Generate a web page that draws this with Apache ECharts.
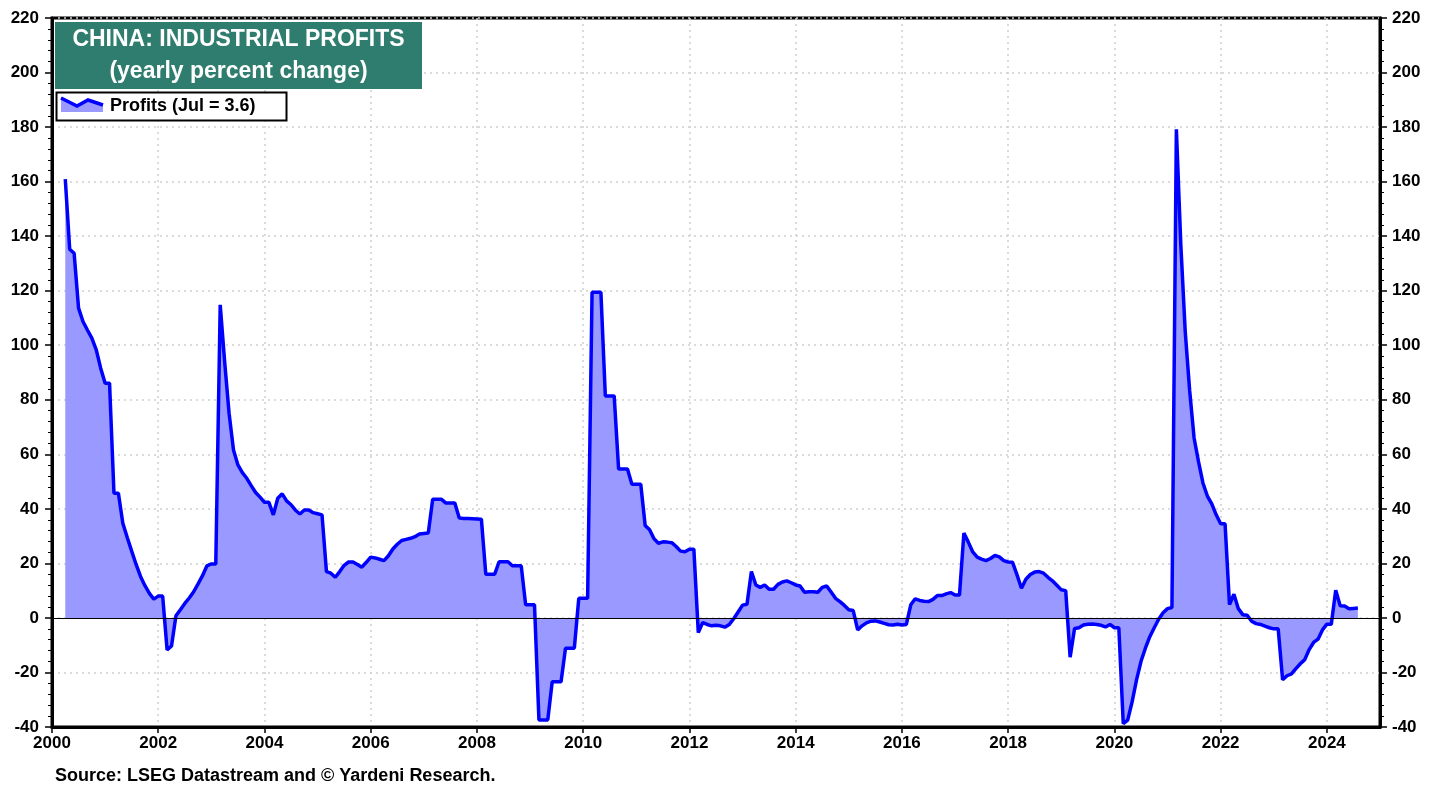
<!DOCTYPE html>
<html>
<head>
<meta charset="utf-8">
<script src="https://cdn.jsdelivr.net/npm/echarts@6/dist/echarts.min.js"></script>
<style>
  html, body { margin: 0; padding: 0; background: #fff; }
  #chart { width: 1441px; height: 789px; }
</style>
</head>
<body>
<div id="chart"></div>
<script>
// ---- Data: China industrial profits, yearly % change (month-end values, Jan..Dec) ----
const p2000 = [null, null, 160.9, 135.2, 133.7, 113.6, 108.7, 105.6, 102.6, 98.3, 91.6, 86.1];
const p2001 = [86.1, 45.7, 45.7, 34.7, 29.5, 24.5, 19.6, 15.2, 11.8, 9.0, 6.9, 8.0];
const p2002 = [8.0, -11.7, -10.3, 0.8, 3.0, 5.3, 7.3, 9.6, 12.5, 15.5, 19.1, 19.8];
const p2003 = [19.8, 114.8, 94.0, 75.1, 61.6, 56.1, 53.3, 51.2, 48.5, 46.0, 44.3, 42.4];
const p2004 = [42.4, 37.8, 43.9, 45.5, 42.9, 41.5, 39.5, 38.1, 39.6, 39.6, 38.6, 38.2];
const p2005 = [37.8, 17.0, 16.4, 14.9, 17.0, 19.3, 20.5, 20.5, 19.6, 18.6, 20.4, 22.3];
const p2006 = [22.0, 21.5, 21.0, 22.8, 25.3, 27.0, 28.4, 28.8, 29.2, 29.8, 30.8, 31.0];
const p2007 = [31.1, 43.5, 43.5, 43.5, 42.1, 42.1, 42.1, 36.6, 36.5, 36.5, 36.4, 36.3];
const p2008 = [36.2, 16.0, 16.0, 16.0, 20.6, 20.6, 20.6, 19.1, 19.1, 19.1, 4.8, 4.8];
const p2009 = [4.8, -37.4, -37.4, -37.4, -23.4, -23.4, -23.4, -11.1, -11.1, -11.1, 7.2, 7.2];
const p2010 = [7.2, 119.4, 119.4, 119.4, 81.4, 81.4, 81.4, 54.6, 54.6, 54.6, 49.0, 49.0];
const p2011 = [49.0, 33.9, 32.3, 29.0, 27.4, 27.9, 27.8, 27.6, 26.2, 24.5, 24.3, 25.2];
const p2012 = [25.2, -5.4, -1.7, -2.4, -2.9, -2.7, -2.9, -3.4, -2.4, -0.3, 2.2, 4.7];
const p2013 = [5.0, 17.0, 12.1, 11.2, 12.1, 10.5, 10.5, 12.3, 13.2, 13.6, 12.9, 12.1];
const p2014 = [11.7, 9.4, 9.6, 9.6, 9.4, 11.2, 11.7, 9.5, 7.2, 6.0, 4.6, 3.0];
const p2015 = [2.7, -4.4, -2.9, -1.8, -1.2, -1.1, -1.5, -2.0, -2.5, -2.6, -2.3, -2.6];
const p2016 = [-2.4, 4.8, 7.0, 6.4, 6.1, 6.0, 6.8, 8.2, 8.2, 8.8, 9.3, 8.4];
const p2017 = [8.4, 31.1, 27.8, 24.2, 22.3, 21.6, 21.0, 21.8, 22.9, 22.4, 21.0, 20.5];
const p2018 = [20.4, 15.8, 10.9, 14.2, 15.9, 16.8, 17.0, 16.4, 14.9, 13.6, 12.0, 10.3];
const p2019 = [10.0, -14.4, -3.9, -3.6, -2.6, -2.3, -2.2, -2.4, -2.7, -3.3, -2.4, -3.6];
const p2020 = [-3.6, -38.8, -37.5, -30.8, -22.7, -16.0, -11.1, -6.9, -3.6, -0.5, 1.9, 3.4];
const p2021 = [3.8, 179.2, 137.0, 105.0, 83.4, 66.0, 57.3, 49.5, 44.7, 41.8, 37.8, 34.5];
const p2022 = [34.5, 4.9, 8.7, 3.4, 1.2, 1.0, -1.2, -2.1, -2.4, -3.0, -3.6, -4.0];
const p2023 = [-4.0, -22.7, -21.2, -20.5, -18.6, -16.8, -15.3, -11.6, -9.0, -7.8, -4.4, -2.3];
const p2024 = [-2.3, 10.2, 4.5, 4.4, 3.4, 3.5, 3.6];

const yearlyValues = {
  2000: p2000, 2001: p2001, 2002: p2002, 2003: p2003, 2004: p2004, 2005: p2005,
  2006: p2006, 2007: p2007, 2008: p2008, 2009: p2009, 2010: p2010, 2011: p2011,
  2012: p2012, 2013: p2013, 2014: p2014, 2015: p2015, 2016: p2016, 2017: p2017,
  2018: p2018, 2019: p2019, 2020: p2020, 2021: p2021, 2022: p2022, 2023: p2023,
  2024: p2024
};

const xTickYears = [2000, 2002, 2004, 2006, 2008, 2010, 2012, 2014, 2016, 2018, 2020, 2022, 2024];
const titleLines = ['CHINA: INDUSTRIAL PROFITS', '(yearly percent change)'];
const legendLabel = 'Profits (Jul = 3.6)';
const sourceText = 'Source: LSEG Datastream and \u00A9 Yardeni Research.';

// Build [decimal-year at month end, value] pairs
const seriesData = [];
Object.keys(yearlyValues).map(Number).sort((a, b) => a - b).forEach(y => {
  yearlyValues[y].forEach((v, m) => {
    if (v !== null && v !== undefined) seriesData.push([y + (m + 1) / 12, v]);
  });
});

const FONT = '"Liberation Sans", Arial, Helvetica, sans-serif';
const chart = echarts.init(document.getElementById('chart'), null, { renderer: 'canvas' });

const gridLineStyle = { color: '#cfcfcf', type: [2, 4], width: 1.5 };

const yAxisCommon = {
  type: 'value', min: -40, max: 220, interval: 20,
  axisLine: { show: true, lineStyle: { color: '#000', width: 3 } },
  axisTick: { show: true, length: 7, lineStyle: { color: '#000', width: 1.5 } },
  minorTick: { show: true, splitNumber: 5, length: 4, lineStyle: { color: '#000', width: 1 } },
  axisLabel: { color: '#000', fontWeight: 'bold', fontSize: 17, fontFamily: FONT }
};

chart.setOption({
  animation: false,
  backgroundColor: '#fff',
  grid: { left: 52, right: 61, top: 18, bottom: 62, show: true, borderColor: '#000', borderWidth: 3, backgroundColor: 'transparent' },
  xAxis: {
    type: 'value', min: 2000, max: 2025, interval: 2,
    axisLine: { show: true, onZero: false, lineStyle: { color: '#000', width: 3 } },
    axisTick: { show: true, length: 6, customValues: xTickYears, lineStyle: { color: '#000', width: 1.5 } },
    axisLabel: { customValues: xTickYears, margin: 8, color: '#000', fontWeight: 'bold', fontSize: 17, fontFamily: FONT,
      formatter: v => String(Math.round(v)) },
    splitLine: { show: true, lineStyle: gridLineStyle }
  },
  yAxis: [
    Object.assign({}, yAxisCommon, {
      position: 'left',
      axisLabel: Object.assign({}, yAxisCommon.axisLabel, { margin: 13 }),
      splitLine: { show: true, lineStyle: gridLineStyle }
    }),
    Object.assign({}, yAxisCommon, {
      position: 'right',
      axisLabel: Object.assign({}, yAxisCommon.axisLabel, { margin: 12 }),
      splitLine: { show: false }
    })
  ],
  series: [{
    name: 'Profits',
    type: 'line',
    data: seriesData,
    symbol: 'none',
    lineStyle: { color: '#0000ff', width: 3.5 },
    itemStyle: { color: '#0000ff' },
    areaStyle: { color: '#9999ff', opacity: 1 },
    z: 3,
    markLine: {
      silent: true, symbol: 'none', label: { show: false },
      lineStyle: { color: '#000', width: 1, type: 'solid' },
      data: [{ yAxis: 0 }]
    }
  }],
  graphic: [
    { type: 'rect', left: 55, top: 22, shape: { width: 367, height: 67 }, style: { fill: '#2f7d6e' }, z: 10 },
    { type: 'text', x: 238.5, y: 40, z: 11,
      style: { text: titleLines[0], fill: '#fff', font: 'bold 23px ' + FONT, textAlign: 'center', textVerticalAlign: 'middle' } },
    { type: 'text', x: 238.5, y: 72, z: 11,
      style: { text: titleLines[1], fill: '#fff', font: 'bold 23px ' + FONT, textAlign: 'center', textVerticalAlign: 'middle' } },
    { type: 'rect', shape: { x: 56.5, y: 92.5, width: 230, height: 28 }, style: { fill: '#fff', stroke: '#000', lineWidth: 2 }, z: 10 },
    { type: 'polygon', shape: { points: [[61, 98], [77, 106], [88, 100], [103, 105], [103, 112], [61, 112]] }, style: { fill: '#9999ff' }, z: 11 },
    { type: 'polyline', shape: { points: [[61, 98], [77, 106], [88, 100], [103, 105]] }, style: { stroke: '#0000ff', lineWidth: 3.5, fill: null }, z: 12 },
    { type: 'text', x: 110, y: 106.5, z: 12,
      style: { text: legendLabel, fill: '#000', font: 'bold 18px ' + FONT, textAlign: 'left', textVerticalAlign: 'middle' } },
    { type: 'text', x: 55, y: 776, z: 12,
      style: { text: sourceText, fill: '#000', font: 'bold 18px ' + FONT, textAlign: 'left', textVerticalAlign: 'middle' } }
  ]
});
</script>
</body>
</html>
